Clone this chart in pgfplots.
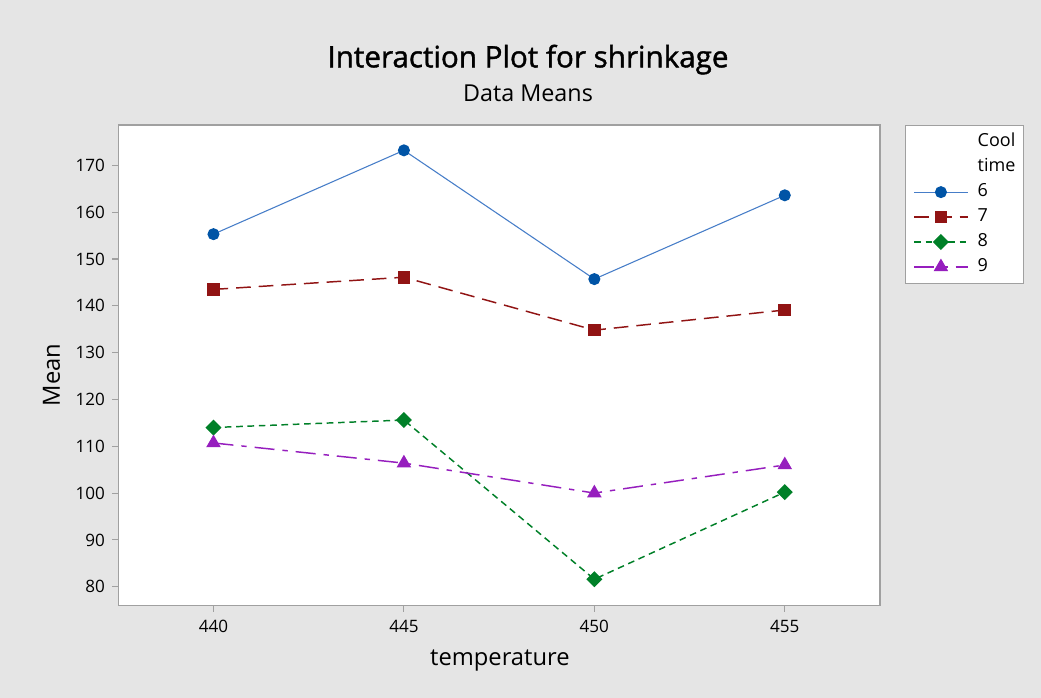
\documentclass[border=0pt]{standalone}
\usepackage{fontspec}
\setmainfont{Open Sans}
\newfontfamily\semibold[FakeBold=1.3]{Open Sans}
\usepackage{pgfplots}
\pgfplotsset{compat=1.18}

\definecolor{bgray}{RGB}{229,229,229}
\definecolor{axgray}{RGB}{160,160,160}
\definecolor{c6}{RGB}{0,84,166}
\definecolor{c6line}{RGB}{70,125,200}
\definecolor{c7}{RGB}{145,20,20}
\definecolor{c8}{RGB}{0,128,40}
\definecolor{c9}{RGB}{150,30,190}

\begin{document}
\begin{tikzpicture}
\fill[bgray] (0,0) rectangle (780.75bp,523.5bp);
\node[font=\semibold\fontsize{22.2bp}{26bp}\selectfont] at (396bp,478.8bp) {Interaction Plot for shrinkage};
\node[font=\fontsize{17.5bp}{20bp}\selectfont] at (396bp,453.5bp) {Data Means};

\begin{axis}[
  at={(88.7bp,69.2bp)}, anchor=south west,
  scale only axis,
  width=571.3bp, height=360.5bp,
  xmin=437.5, xmax=457.5,
  ymin=75.94, ymax=178.6,
  xtick={440,445,450,455},
  ytick={80,90,...,170},
  axis background/.style={fill=white},
  axis line style={axgray, line width=0.9bp},
  tick align=outside,
  major tick length=4.5bp,
  tick style={axgray, line width=0.8bp},
  xtick pos=bottom, ytick pos=left,
  /pgf/number format/assume math mode=true,
  /pgf/number format/1000 sep={},
  tick label style={font=\fontsize{12.8bp}{15bp}\selectfont},
  xticklabel style={yshift=-2.5bp},
  yticklabel style={xshift=-2bp},
  xlabel={temperature},
  ylabel={Mean},
  label style={font=\fontsize{17.8bp}{21bp}\selectfont},
  xlabel style={at={(axis description cs:0.501,0)}, anchor=center, yshift=-41bp},
  ylabel style={at={(axis description cs:0,0.48)}, anchor=center, yshift=50bp},
  legend style={
    at={(1.0328,1)}, anchor=north west,
    draw=axgray, fill=white, line width=0.8bp,
    inner xsep=6bp, inner ysep=6bp,
    font=\fontsize{13.5bp}{16bp}\selectfont,
    nodes={inner sep=0pt, text height=10bp, text depth=3bp},
    row sep=5.7bp, column sep=7bp,
  },
  legend cell align=left,
  legend image code/.code={
    \draw[mark repeat=2, mark phase=2] plot coordinates {(0bp,0bp) (20bp,0bp) (40bp,0bp)};
  },
]
\addlegendimage{empty legend}
\addlegendentry{Cool}
\addlegendimage{empty legend}
\addlegendentry{time}

\addplot[c6line, line width=0.8bp, mark=*, mark size=4.1bp,
  mark options={solid, fill=c6, draw=c6}]
coordinates {
(440, 155.3)
(445, 173.2)
(450, 145.7)
(455, 163.6)
};
\addlegendentry{6}

\addplot[c7, line width=1.1bp, dash pattern=on 11bp off 6bp, mark=square*, mark size=4.2bp,
  mark options={solid, fill=c7}]
coordinates {
(440, 143.5)
(445, 146.1)
(450, 134.8)
(455, 139.1)
};
\addlegendentry{7}

\addplot[c8, line width=1.1bp, dash pattern=on 5bp off 3.5bp, mark=square*, mark size=3.7bp,
  mark options={solid, fill=c8, rotate=45}]
coordinates {
(440, 114.0)
(445, 115.6)
(450, 81.6)
(455, 100.2)
};
\addlegendentry{8}

\addplot[c9, line width=1.1bp, dash pattern=on 15bp off 6bp on 4bp off 6bp, mark=triangle*, mark size=5.2bp,
  mark options={solid, fill=c9}]
coordinates {
(440, 110.7)
(445, 106.4)
(450, 100.0)
(455, 106.0)
};
\addlegendentry{9}
\end{axis}
\pgfresetboundingbox
\path (0,0) rectangle (780.75bp,523.5bp);
\end{tikzpicture}
\end{document}
